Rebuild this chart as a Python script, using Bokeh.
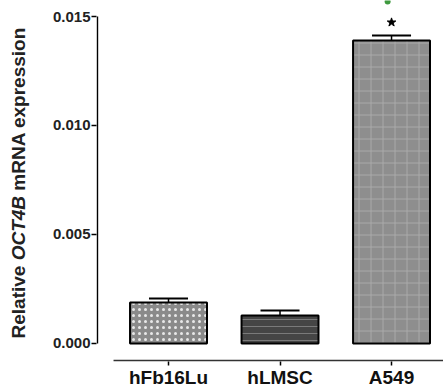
import math
from bokeh.plotting import figure
from bokeh.layouts import row
from bokeh.models import Range1d, LinearAxis, FixedTicker, Label
from bokeh.embed import file_html
from bokeh.resources import INLINE

# ---- data ----
categories = ["hFb16Lu", "hLMSC", "A549"]
means = [0.00188, 0.00128, 0.01390]
sems = [0.00018, 0.00023, 0.00023]
significant = [False, False, True]
y_ticks = [0.000, 0.005, 0.010, 0.015]
y_tick_labels = ["0.000", "0.005", "0.010", "0.015"]
y_label_parts = ["Relative ", "OCT4B", " mRNA expression"]

# ---- styling / layout ----
FONT = "Liberation Sans"
bar_fills = ["#8a8a8a", "#454545", "#8e8e8e"]
bar_hatch = ["dot", "horizontal_line", "cross"]
bar_hatch_color = ["#e8e8e8", "#7a7a7a", "#a9a9a9"]
bar_hatch_scale = [6, 7, 12]
bar_hatch_weight = [1.6, 1, 1]
bar_width = 0.69
cap_half = 0.175
LABEL_W = 40

x_start, x_end = -0.6457, 2.466
y_start, y_end = -0.000826, 0.015734

p = figure(width=443 - LABEL_W, height=390, output_backend="svg", toolbar_location=None,
           x_range=Range1d(x_start, x_end), y_range=Range1d(y_start, y_end),
           min_border_left=96 - LABEL_W, min_border_right=0, min_border_top=0,
           min_border_bottom=27, x_axis_type=None, y_axis_type=None)
p.outline_line_color = None
p.xgrid.visible = False
p.ygrid.visible = False
p.background_fill_color = "white"
p.border_fill_color = "white"

xs = list(range(len(categories)))

# bars
for i in xs:
    p.vbar(x=[i], top=[means[i]], bottom=0, width=bar_width,
           fill_color=bar_fills[i], line_color="black", line_width=2,
           hatch_pattern=bar_hatch[i], hatch_color=bar_hatch_color[i],
           hatch_scale=bar_hatch_scale[i], hatch_weight=bar_hatch_weight[i])

# error bars (upper only)
tops = [m + s for m, s in zip(means, sems)]
p.segment(x0=xs, y0=means, x1=xs, y1=tops, line_color="black", line_width=1.5)
p.segment(x0=[i - cap_half for i in xs], y0=tops, x1=[i + cap_half for i in xs],
          y1=tops, line_color="black", line_width=2)

# significance star
sig_x = [i for i in xs if significant[i]]
sig_y = [tops[i] + 0.0006 for i in xs if significant[i]]
p.scatter(x=sig_x, y=sig_y, marker="star", size=9, fill_color="black",
          line_color="black")

# small green mark at top (cropped annotation in the source)
p.scatter(x=[sig_x[0] - 0.035], y=[y_end - 0.00005], marker="circle",
          size=6, fill_color="#3f9a3f", line_color=None)

# y axis (ticks + labels), line drawn separately from 0 to 0.015
yax = LinearAxis(ticker=FixedTicker(ticks=y_ticks),
                 major_label_overrides={t: l for t, l in zip(y_ticks, y_tick_labels)})
yax.axis_line_color = None
yax.major_tick_out = 5
yax.major_tick_in = 0
yax.major_tick_line_width = 1.5
yax.minor_tick_line_color = None
yax.major_label_standoff = 1
yax.major_label_text_font = FONT
yax.major_label_text_font_style = "bold"
yax.major_label_text_font_size = "15px"
yax.major_label_text_color = "#222222"
p.add_layout(yax, "left")
p.segment(x0=[x_start + 0.008], y0=[y_ticks[0]], x1=[x_start + 0.008], y1=[y_ticks[-1]],
          line_color="black", line_width=1.6)

# x axis
xax = LinearAxis(ticker=FixedTicker(ticks=xs),
                 major_label_overrides={i: c for i, c in zip(xs, categories)})
xax.axis_line_color = None
xax.major_tick_out = 4
xax.major_tick_in = 0
xax.major_tick_line_width = 1.5
xax.minor_tick_line_color = None
xax.major_label_standoff = 1
xax.major_label_text_font = FONT
xax.major_label_text_font_style = "bold"
xax.major_label_text_font_size = "19px"
xax.major_label_text_color = "#111111"
p.add_layout(xax, "below")
p.segment(x0=[-0.493], y0=[y_start + 0.00004], x1=[x_end], y1=[y_start + 0.00004],
          line_color="#333333", line_width=1.6)

# y axis label (rotated, mixed styles) in a narrow side figure
lab = figure(width=LABEL_W, height=390, output_backend="svg", toolbar_location=None,
             x_range=Range1d(0, LABEL_W), y_range=Range1d(0, 390),
             min_border=0, x_axis_type=None, y_axis_type=None)
lab.outline_line_color = None
lab.xgrid.visible = False
lab.ygrid.visible = False
fs = 19
em = [4.113, 3.667, 8.613]
sy = 23.0
styles = ["bold", "bold italic", "bold"]
for part, st, w in zip(y_label_parts, styles, em):
    lab.add_layout(Label(x=18, y=sy, x_units="screen", y_units="screen",
                         text=part, angle=math.pi / 2,
                         text_font=FONT, text_font_style=st,
                         text_font_size=f"{fs}px", text_align="left",
                         text_baseline="middle", text_color="#222222"))
    sy += w * fs

layout = row(lab, p, spacing=0)
open("out.html", "w").write(file_html(layout, INLINE))
